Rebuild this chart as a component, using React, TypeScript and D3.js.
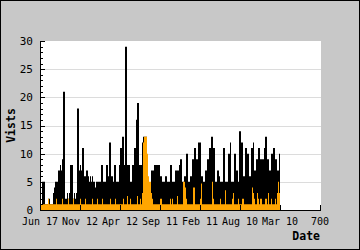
import React from "react";
import * as d3 from "d3";

// x tick labels at 0,100,...,700
const xTickValues = [0, 100, 200, 300, 400, 500, 600, 700];
const xTickLabels = ["Jun 17", "Nov 12", "Apr 12", "Sep 11", "Feb 11", "Aug 10", "Mar 10", "700"];
const yTickValues = [0, 5, 10, 15, 20, 25, 30];

// each sample covers 2.5 x-units
const STEP = 2.5;

// Visits (black) per sample
const visits = [
  1, 1, 5, 5, 5, 1, 1, 1, 2, 2, 1, 1, 1, 3, 4, 5, 5, 5, 7, 7,
  8, 7, 9, 21, 21, 2, 2, 3, 2, 3, 8, 8, 8, 2, 3, 2, 3, 18, 18, 7,
  8, 7, 11, 11, 6, 6, 7, 7, 6, 5, 6, 5, 6, 5, 5, 4, 5, 5, 5, 5,
  5, 8, 8, 5, 5, 5, 8, 8, 6, 12, 12, 6, 6, 5, 8, 8, 5, 5, 5, 8,
  11, 11, 13, 13, 8, 29, 29, 8, 8, 8, 5, 5, 8, 8, 11, 11, 16, 19, 19, 8,
  8, 8, 12, 13, 13, 13, 13, 5, 5, 3, 3, 7, 7, 7, 8, 8, 8, 8, 8, 8,
  6, 6, 5, 5, 5, 6, 6, 5, 5, 5, 8, 8, 5, 5, 5, 7, 7, 7, 7, 8,
  9, 9, 5, 5, 6, 6, 10, 10, 5, 5, 6, 6, 9, 9, 11, 11, 9, 9, 12, 12,
  12, 6, 6, 5, 5, 7, 7, 9, 9, 11, 11, 13, 13, 11, 11, 5, 5, 7, 7, 6,
  5, 5, 5, 11, 11, 5, 5, 5, 10, 10, 12, 5, 5, 5, 10, 10, 7, 7, 5, 14,
  14, 12, 12, 6, 6, 11, 11, 10, 10, 6, 6, 11, 11, 12, 7, 7, 9, 9, 11, 11,
  9, 9, 9, 9, 11, 13, 13, 9, 9, 7, 7, 10, 10, 11, 11, 9, 9, 7, 7, 10,
];

// New visitors (orange)
const newVisits = [
  1, 1, 1, 1, 1, 1, 1, 1, 2, 1, 1, 1, 1, 1, 1, 1, 2, 1, 1, 1,
  1, 1, 2, 1, 1, 1, 1, 1, 2, 1, 1, 1, 1, 2, 1, 1, 1, 1, 1, 1,
  2, 1, 1, 1, 1, 2, 1, 1, 1, 1, 1, 1, 2, 1, 1, 1, 1, 2, 1, 1,
  1, 1, 2, 1, 1, 1, 1, 1, 1, 1, 2, 1, 1, 1, 1, 2, 1, 1, 1, 1,
  1, 1, 1, 2, 1, 1, 1, 2.5, 1, 1, 2, 1, 1, 1, 1, 1, 1, 2.5, 1, 1,
  2, 1, 3, 12, 13, 13, 13, 10, 6, 5, 5, 3, 2, 1, 1, 1, 1, 1, 1, 1,
  2, 2, 1, 1, 1, 1, 1, 1, 1, 1, 2, 1, 2, 1, 1, 1, 1, 2.5, 1, 1,
  1, 1, 1, 5, 5, 4, 2, 1, 1, 1, 1, 1, 1, 4, 4, 1, 1, 1, 1, 1,
  2, 4.7, 1, 1, 1, 1, 1, 1, 1, 1, 1, 1, 5, 2, 1, 1, 1, 1, 1, 1,
  2, 1, 1, 1, 1, 3.5, 1, 1, 1, 1, 1, 1, 2, 3, 1, 1, 1, 1, 2, 1,
  1, 1, 2, 2, 1, 1, 1, 1, 1, 1, 1, 1, 4, 3, 2, 1, 1, 3, 2, 1,
  2, 2, 1, 1, 1, 2, 2, 1, 3, 1, 1, 2, 1, 1, 1, 2, 1, 3, 5, 3,
];

const W = 360;
const H = 250;
const left = 40;
const right = 320;
const top = 41;
const bottom = 210;

export default function App() {
  const x = d3.scaleLinear().domain([0, 700]).range([left, right]);
  const y = d3.scaleLinear().domain([0, 30]).range([bottom, top]);

  const toPts = (arr: number[]) => {
    const pts = arr.map((v, i) => [i * STEP, v] as [number, number]);
    pts.push([arr.length * STEP, arr[arr.length - 1]]);
    return pts;
  };

  const area = d3
    .area<[number, number]>()
    .x((d) => x(d[0]))
    .y0(y(0))
    .y1((d) => y(d[1]))
    .curve(d3.curveStepAfter);

  const minorTicks = d3.range(0, 31, 1);
  const grid = [5, 10, 15, 20, 25];
  const mono = "'DejaVu Sans Mono', monospace";

  return (
    <svg width={W} height={H} style={{ display: "block", position: "absolute", left: 0, top: 0 }}>
      <rect x={0.5} y={0.5} width={W - 1} height={H - 1} fill="#c8c8c8" stroke="#000" strokeWidth={1} />
      <rect x={left} y={top} width={right - left + 1} height={bottom - top} fill="#fff" />
      {grid.map((g) => (
        <line key={g} x1={left} x2={right + 1} y1={Math.round(y(g)) + 0.5} y2={Math.round(y(g)) + 0.5} stroke="#dcdcdc" strokeWidth={1} />
      ))}
      <path d={area(toPts(visits)) || ""} fill="#000" />
      <path d={area(toPts(newVisits)) || ""} fill="#ffa500" />
      {/* y axis */}
      <line x1={left + 0.5} x2={left + 0.5} y1={top} y2={bottom + 1} stroke="#000" />
      {minorTicks.map((t) => (
        <line
          key={t}
          x1={left}
          x2={left + (t % 5 === 0 ? 5 : 3)}
          y1={Math.round(y(t)) + 0.5}
          y2={Math.round(y(t)) + 0.5}
          stroke="#000"
        />
      ))}
      {yTickValues.map((t) => (
        <text key={t} x={33} y={y(t)} dy="0.35em" textAnchor="end" fontFamily={mono} fontSize={11} fill="#000">
          {t}
        </text>
      ))}
      {/* x axis */}
      <line x1={left} x2={right + 1} y1={bottom + 0.5} y2={bottom + 0.5} stroke="#000" />
      {xTickValues.map((t) => (
        <line key={t} x1={Math.round(x(t)) + 0.5} x2={Math.round(x(t)) + 0.5} y1={bottom - 5} y2={bottom} stroke="#000" />
      ))}
      {xTickValues.map((t, i) => (
        <text key={t} x={x(t)} y={221} dy="0.35em" textAnchor="middle" fontFamily={mono} fontSize={10} fill="#000">
          {xTickLabels[i]}
        </text>
      ))}
      <text x={320} y={236} dy="0.35em" textAnchor="end" fontFamily={mono} fontWeight="bold" fontSize={11.5} fill="#000">
        Date
      </text>
      <text
        transform={`translate(14.5,${(top + bottom) / 2}) rotate(-90)`}
        textAnchor="middle"
        fontFamily={mono}
        fontWeight="bold"
        fontSize={11.5}
        fill="#000"
      >
        Vists
      </text>
    </svg>
  );
}
